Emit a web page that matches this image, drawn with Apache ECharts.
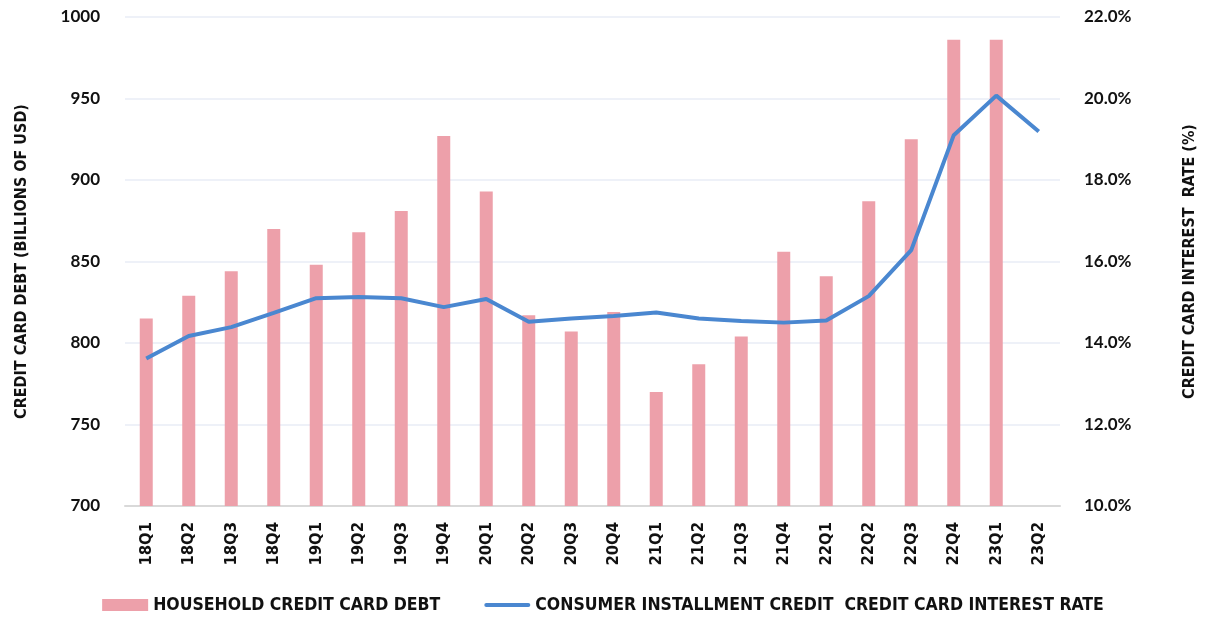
<!DOCTYPE html>
<html>
<head>
<meta charset="utf-8">
<script src="https://cdn.jsdelivr.net/npm/echarts@6/dist/echarts.min.js"></script>
<style>
  html, body { margin: 0; padding: 0; background: #fff; }
  #chart { width: 1206px; height: 623px; }
</style>
</head>
<body>
<div id="chart"></div>
<script>
const quarters = ['18Q1', '18Q2', '18Q3', '18Q4', '19Q1', '19Q2', '19Q3', '19Q4', '20Q1', '20Q2', '20Q3',
  '20Q4', '21Q1', '21Q2', '21Q3', '21Q4', '22Q1', '22Q2', '22Q3', '22Q4', '23Q1', '23Q2'];
const debt = [815, 829, 844, 870, 848, 868, 881, 927, 893, 817, 807,
  819, 770, 787, 804, 856, 841, 887, 925, 986, 986, null];
const rate = [13.62, 14.17, 14.39, 14.74, 15.1, 15.13, 15.1, 14.88, 15.08, 14.52, 14.6,
  14.66, 14.75, 14.6, 14.54, 14.5, 14.55, 15.15, 16.28, 19.1, 20.07, 19.19];

const condensed = '"DejaVu Sans Condensed", "Liberation Sans Narrow", sans-serif';
const tickFont = 'Lato, "Open Sans", sans-serif';

const chart = echarts.init(document.getElementById('chart'));
chart.setOption({
  animation: false,
  grid: { left: 125, right: 144, top: 17, bottom: 117 },
  legend: {
    bottom: 4,
    left: 'center',
    itemGap: 44,
    textStyle: { fontFamily: condensed, fontWeight: 'bold', fontSize: 17.5, color: '#111' },
    data: [
      { name: 'HOUSEHOLD CREDIT CARD DEBT', icon: 'rect', itemStyle: { color: '#eda0aa' } },
      {
        name: 'CONSUMER INSTALLMENT CREDIT  CREDIT CARD INTEREST RATE',
        icon: 'path://M2,0 L44,0 A2,2 0 0 1 44,4 L2,4 A2,2 0 0 1 2,0 Z',
        itemStyle: { color: '#4a87d0' }
      }
    ],
    itemWidth: 46,
    itemHeight: 12
  },
  xAxis: {
    type: 'category',
    data: quarters,
    axisTick: { show: false },
    axisLine: { lineStyle: { color: '#d9d9d9', width: 2 } },
    axisLabel: {
      rotate: 90,
      interval: 0,
      margin: 16,
      fontFamily: condensed,
      fontWeight: 'bold',
      fontSize: 16.5,
      color: '#111'
    }
  },
  yAxis: [
    {
      type: 'value',
      min: 700,
      max: 1000,
      interval: 50,
      name: 'CREDIT CARD DEBT (BILLIONS OF USD)',
      nameLocation: 'middle',
      nameRotate: 90,
      nameGap: 95,
      nameTextStyle: { fontFamily: condensed, fontWeight: 'bold', fontSize: 16, color: '#111' },
      axisLabel: {
        margin: 25,
        fontFamily: tickFont,
        fontWeight: 'bold',
        fontSize: 17,
        color: '#111',
        formatter: v => String(v)
      },
      splitLine: { lineStyle: { color: '#eef1f8', width: 2 } }
    },
    {
      type: 'value',
      min: 10,
      max: 22,
      interval: 2,
      name: 'CREDIT CARD INTEREST  RATE (%)',
      nameLocation: 'middle',
      nameRotate: 90,
      nameGap: 122,
      nameTextStyle: { fontFamily: condensed, fontWeight: 'bold', fontSize: 16, color: '#111' },
      axisLabel: {
        margin: 24,
        fontFamily: tickFont,
        fontWeight: 'bold',
        fontSize: 17,
        color: '#111',
        formatter: v => v.toFixed(1) + '%'
      },
      splitLine: { show: false }
    }
  ],
  series: [
    {
      name: 'HOUSEHOLD CREDIT CARD DEBT',
      type: 'bar',
      data: debt,
      barWidth: 13,
      itemStyle: { color: '#eda0aa' }
    },
    {
      name: 'CONSUMER INSTALLMENT CREDIT  CREDIT CARD INTEREST RATE',
      type: 'line',
      yAxisIndex: 1,
      data: rate,
      showSymbol: false,
      lineStyle: { color: '#4a87d0', width: 4 },
      itemStyle: { color: '#4a87d0' }
    }
  ]
});
</script>
</body>
</html>
